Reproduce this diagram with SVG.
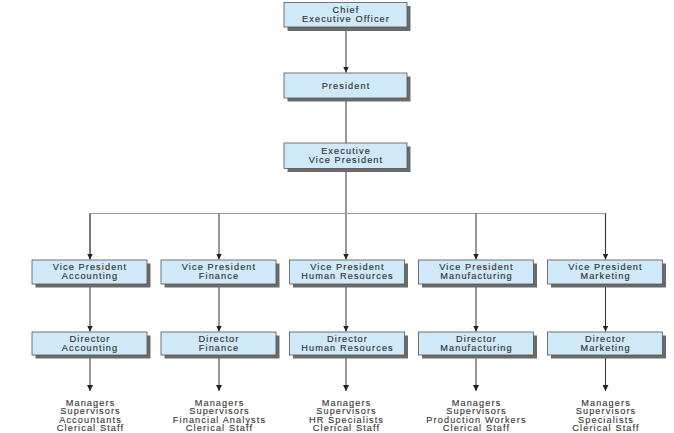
<svg xmlns="http://www.w3.org/2000/svg" width="674" height="433" viewBox="0 0 674 433">
<defs>
<style>
.shadow{fill:#6a6a6a}
.box{fill:#cfe9f8;stroke:#555;stroke-width:0.8}
.t{font-family:"Liberation Sans",Arial,sans-serif;font-size:9.2px;letter-spacing:1.1px;fill:#333;stroke:#333;stroke-width:0.15;text-anchor:middle}
.l{font-family:"Liberation Sans",Arial,sans-serif;font-size:9.2px;letter-spacing:1.1px;fill:#3c3c3c;stroke:#3c3c3c;stroke-width:0.15;text-anchor:middle}
.c{stroke:#333;stroke-width:1;fill:none}
.h{stroke:#999;stroke-width:1.2;fill:none}
</style>
<marker id="ah" viewBox="0 0 10 10" refX="10" refY="5" markerWidth="6" markerHeight="6" orient="auto" markerUnits="userSpaceOnUse">
<path d="M0,0 L10,5 L0,10 Z" fill="#222"/>
</marker>
</defs>
<rect width="674" height="433" fill="#fff"/>
<g id="connectors">
<line class="c" x1="346" y1="27" x2="346" y2="72.5" marker-end="url(#ah)"/>
<line class="c" x1="346" y1="98" x2="346" y2="143"/>
<line class="c" x1="346" y1="169" x2="346" y2="259.5" marker-end="url(#ah)"/>
<polyline class="h" points="90,259.5 90,213.5 605.5,213.5 605.5,259.5"/>
<line class="c" x1="90" y1="213.5" x2="90" y2="259.5" marker-end="url(#ah)"/>
<line class="c" x1="605.5" y1="213.5" x2="605.5" y2="259.5" marker-end="url(#ah)"/>
<line class="c" x1="219" y1="213.5" x2="219" y2="259.5" marker-end="url(#ah)"/>
<line class="c" x1="476" y1="213.5" x2="476" y2="259.5" marker-end="url(#ah)"/>
<line class="c" x1="90" y1="284" x2="90" y2="331.5" marker-end="url(#ah)"/>
<line class="c" x1="219" y1="284" x2="219" y2="331.5" marker-end="url(#ah)"/>
<line class="c" x1="346" y1="284" x2="346" y2="331.5" marker-end="url(#ah)"/>
<line class="c" x1="476" y1="284" x2="476" y2="331.5" marker-end="url(#ah)"/>
<line class="c" x1="605.5" y1="284" x2="605.5" y2="331.5" marker-end="url(#ah)"/>
<line class="c" x1="90" y1="355" x2="90" y2="391" marker-end="url(#ah)"/>
<line class="c" x1="219" y1="355" x2="219" y2="391" marker-end="url(#ah)"/>
<line class="c" x1="346" y1="355" x2="346" y2="391" marker-end="url(#ah)"/>
<line class="c" x1="476" y1="355" x2="476" y2="391" marker-end="url(#ah)"/>
<line class="c" x1="605.5" y1="355" x2="605.5" y2="391" marker-end="url(#ah)"/>
</g>
<g id="ceo">
<rect class="shadow" x="287.5" y="6" width="123" height="25"/>
<rect class="box" x="284" y="2.5" width="123" height="24.5"/>
<text class="t" x="346" y="12.5">Chief</text>
<text class="t" x="346" y="21.5">Executive Officer</text>
</g>
<g id="president">
<rect class="shadow" x="287.5" y="76.5" width="123" height="25"/>
<rect class="box" x="284" y="73" width="123" height="25"/>
<text class="t" x="346" y="88.5">President</text>
</g>
<g id="evp">
<rect class="shadow" x="287.5" y="146.5" width="123" height="25.5"/>
<rect class="box" x="284" y="143" width="123" height="25.5"/>
<text class="t" x="346" y="154">Executive</text>
<text class="t" x="346" y="163">Vice President</text>
</g>
<g id="vp-accounting">
<rect class="shadow" x="35.5" y="263.5" width="115" height="24"/>
<rect class="box" x="32" y="260" width="115" height="24"/>
<text class="t" x="90" y="270">Vice President</text>
<text class="t" x="90" y="279">Accounting</text>
</g>
<g id="vp-finance">
<rect class="shadow" x="164.5" y="263.5" width="115" height="24"/>
<rect class="box" x="161" y="260" width="115" height="24"/>
<text class="t" x="219" y="270">Vice President</text>
<text class="t" x="219" y="279">Finance</text>
</g>
<g id="vp-hr">
<rect class="shadow" x="293" y="263.5" width="115" height="24"/>
<rect class="box" x="289.5" y="260" width="115" height="24"/>
<text class="t" x="347.5" y="270">Vice President</text>
<text class="t" x="347.5" y="279">Human Resources</text>
</g>
<g id="vp-manufacturing">
<rect class="shadow" x="422" y="263.5" width="115" height="24"/>
<rect class="box" x="418.5" y="260" width="115" height="24"/>
<text class="t" x="476.5" y="270">Vice President</text>
<text class="t" x="476.5" y="279">Manufacturing</text>
</g>
<g id="vp-marketing">
<rect class="shadow" x="551" y="263.5" width="115" height="24"/>
<rect class="box" x="547.5" y="260" width="115" height="24"/>
<text class="t" x="605.5" y="270">Vice President</text>
<text class="t" x="605.5" y="279">Marketing</text>
</g>
<g id="dir-accounting">
<rect class="shadow" x="35.5" y="335.5" width="115" height="23"/>
<rect class="box" x="32" y="332" width="115" height="23"/>
<text class="t" x="90" y="341.5">Director</text>
<text class="t" x="90" y="350.5">Accounting</text>
</g>
<g id="dir-finance">
<rect class="shadow" x="164.5" y="335.5" width="115" height="23"/>
<rect class="box" x="161" y="332" width="115" height="23"/>
<text class="t" x="219" y="341.5">Director</text>
<text class="t" x="219" y="350.5">Finance</text>
</g>
<g id="dir-hr">
<rect class="shadow" x="293" y="335.5" width="115" height="23"/>
<rect class="box" x="289.5" y="332" width="115" height="23"/>
<text class="t" x="347.5" y="341.5">Director</text>
<text class="t" x="347.5" y="350.5">Human Resources</text>
</g>
<g id="dir-manufacturing">
<rect class="shadow" x="422" y="335.5" width="115" height="23"/>
<rect class="box" x="418.5" y="332" width="115" height="23"/>
<text class="t" x="476.5" y="341.5">Director</text>
<text class="t" x="476.5" y="350.5">Manufacturing</text>
</g>
<g id="dir-marketing">
<rect class="shadow" x="551" y="335.5" width="115" height="23"/>
<rect class="box" x="547.5" y="332" width="115" height="23"/>
<text class="t" x="605.5" y="341.5">Director</text>
<text class="t" x="605.5" y="350.5">Marketing</text>
</g>
<g id="staff-accounting">
<text class="l" x="90.5" y="405.5">Managers</text>
<text class="l" x="90.5" y="414">Supervisors</text>
<text class="l" x="90.5" y="422.5">Accountants</text>
<text class="l" x="90.5" y="431">Clerical Staff</text>
</g>
<g id="staff-finance">
<text class="l" x="219.5" y="405.5">Managers</text>
<text class="l" x="219.5" y="414">Supervisors</text>
<text class="l" x="219.5" y="422.5">Financial Analysts</text>
<text class="l" x="219.5" y="431">Clerical Staff</text>
</g>
<g id="staff-hr">
<text class="l" x="346.5" y="405.5">Managers</text>
<text class="l" x="346.5" y="414">Supervisors</text>
<text class="l" x="346.5" y="422.5">HR Specialists</text>
<text class="l" x="346.5" y="431">Clerical Staff</text>
</g>
<g id="staff-manufacturing">
<text class="l" x="476.5" y="405.5">Managers</text>
<text class="l" x="476.5" y="414">Supervisors</text>
<text class="l" x="476.5" y="422.5">Production Workers</text>
<text class="l" x="476.5" y="431">Clerical Staff</text>
</g>
<g id="staff-marketing">
<text class="l" x="606" y="405.5">Managers</text>
<text class="l" x="606" y="414">Supervisors</text>
<text class="l" x="606" y="422.5">Specialists</text>
<text class="l" x="606" y="431">Clerical Staff</text>
</g>
</svg>
